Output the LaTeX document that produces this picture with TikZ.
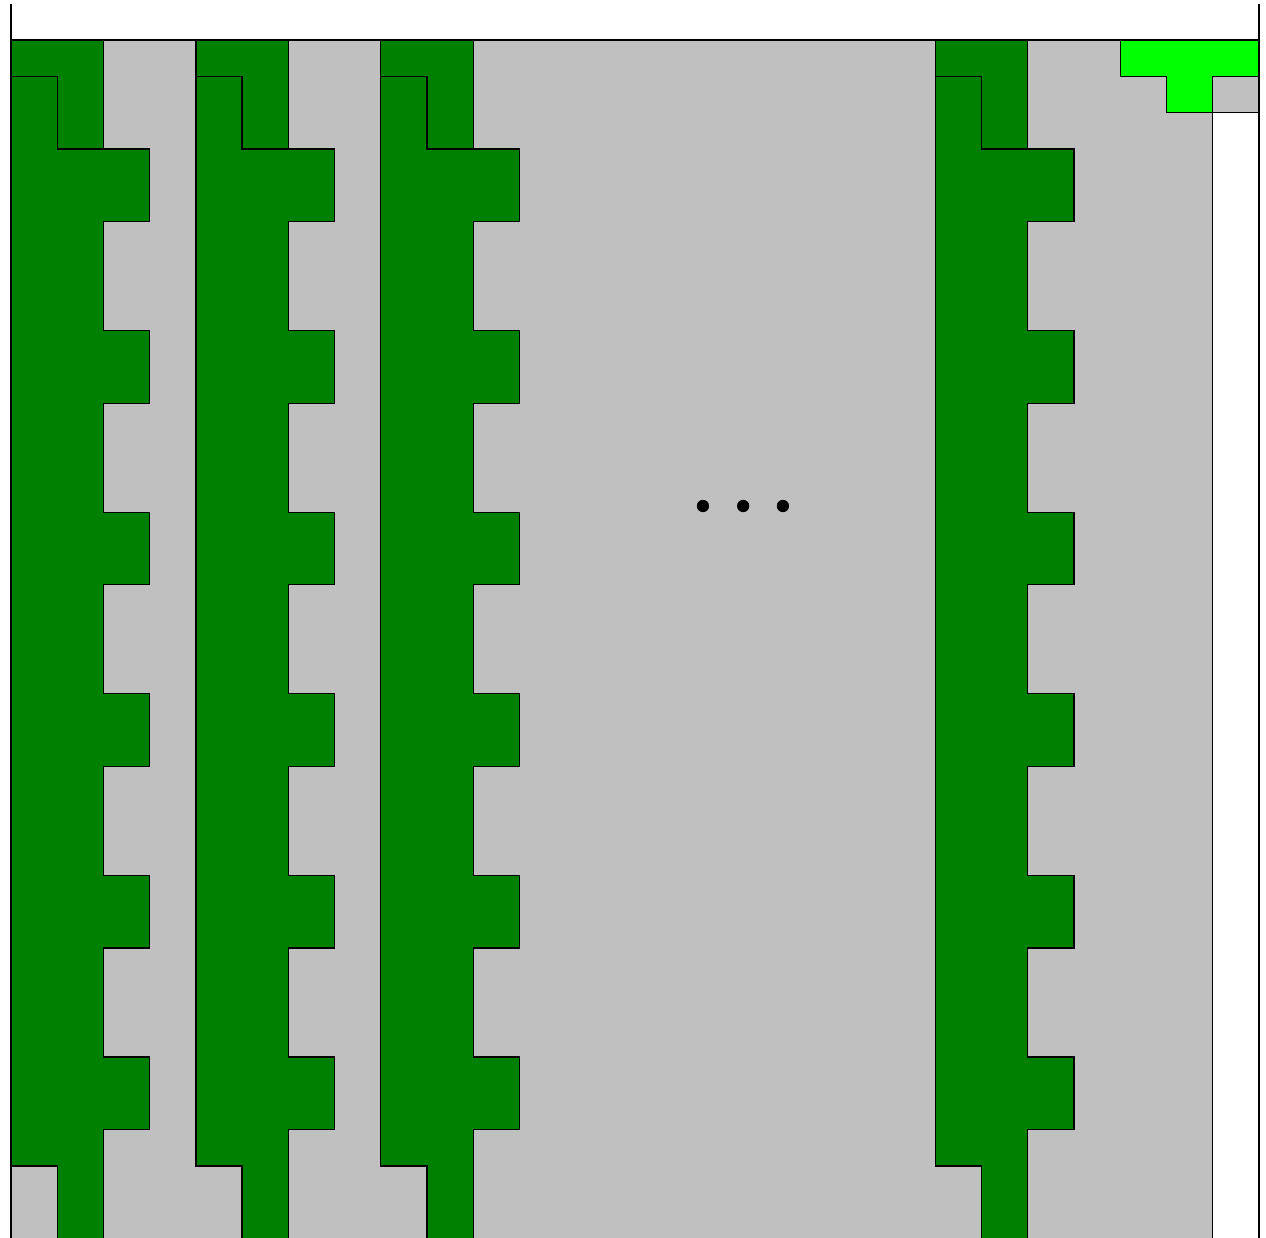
\documentclass[tikz,border=0pt]{standalone}
\definecolor{gridgray}{HTML}{C0C0C0}
\definecolor{darkgreen}{HTML}{008000}
\definecolor{brightgreen}{HTML}{00FF00}
\tikzset{
  outline/.style={draw=black, line width=0.7pt, line join=miter},
  lpiece/.style={outline, fill=darkgreen},
  combpiece/.style={outline, fill=darkgreen},
  tpiece/.style={outline, fill=brightgreen},
  dotmark/.style={fill=black, circle, inner sep=0pt, minimum size=7pt}
}
\newcommand{\greencolumn}[1]{%
  \draw[combpiece] (#1,1) -- (#1+1,1) -- (#1+1,3) -- (#1+3,3) -- (#1+3,5) -- (#1+2,5)
    -- (#1+2,8) -- (#1+3,8) -- (#1+3,10) -- (#1+2,10)
    -- (#1+2,13) -- (#1+3,13) -- (#1+3,15) -- (#1+2,15)
    -- (#1+2,18) -- (#1+3,18) -- (#1+3,20) -- (#1+2,20)
    -- (#1+2,23) -- (#1+3,23) -- (#1+3,25) -- (#1+2,25)
    -- (#1+2,28) -- (#1+3,28) -- (#1+3,30) -- (#1+2,30)
    -- (#1+2,33.2) -- (#1+1,33.2) -- (#1+1,31) -- (#1,31) -- cycle;
  \draw[lpiece] (#1,0) -- (#1+2,0) -- (#1+2,3) -- (#1+1,3) -- (#1+1,1) -- (#1,1) -- cycle;
}
\begin{document}
\begin{tikzpicture}[x={(0.9244cm,0cm)}, y={(0cm,-0.7264cm)}]
\useasboundingbox (-0.238,-1.101) rectangle (27.152,32.957);
% gray board
\fill[gridgray] (0,0) rectangle (26,33.2);
\fill[gridgray] (26,0) rectangle (27,2);
% columns
\greencolumn{0}
\greencolumn{4}
\greencolumn{8}
\greencolumn{20}
% T piece
\draw[tpiece] (24,0) -- (27,0) -- (27,1) -- (26,1) -- (26,2) -- (25,2) -- (25,1) -- (24,1) -- cycle;
% frame lines
\coordinate (tl) at (0,0);
\coordinate (tr) at (27,0);
\draw[outline] (0,0) -- (27,0);
\draw[outline] (0,-1) -- (0,33.2);
\draw[outline] (27,-1) -- (27,33.2);
\draw[outline] (26,2) -- (26,33.2);
\draw[outline] (26,2) -- (27,2);
% dots
\node[dotmark] (d1) at (14.97,12.83) {};
\node[dotmark] (d2) at (15.84,12.83) {};
\node[dotmark] (d3) at (16.70,12.83) {};
\end{tikzpicture}
\end{document}
